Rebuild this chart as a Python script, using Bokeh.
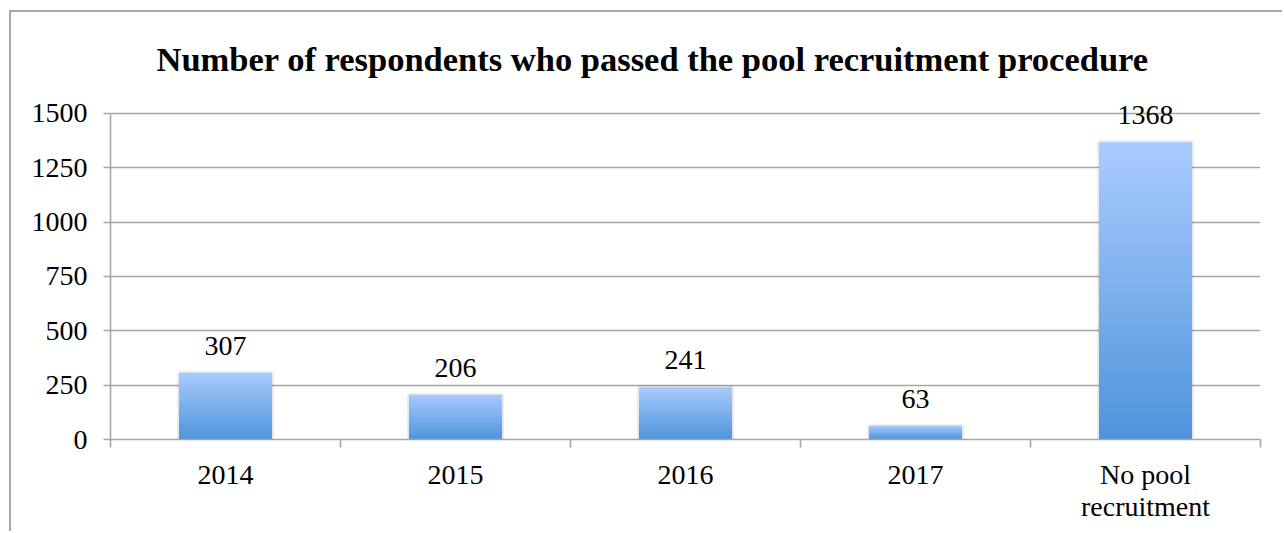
import numpy as np
from bokeh.plotting import figure
from bokeh.models import Range1d, FixedTicker, LabelSet, ColumnDataSource, Title
from bokeh.embed import file_html
from bokeh.resources import INLINE

# ---- data ----
categories = ["2014", "2015", "2016", "2017", "No pool\nrecruitment"]
values = [307, 206, 241, 63, 1368]
y_ticks = [0, 250, 500, 750, 1000, 1250, 1500]
title_text = "Number of respondents who passed the pool recruitment procedure"

FONT = "Liberation Serif"
GRID = "#a6a6a6"
TOP_RGB = (170, 204, 254)
BOT_RGB = (79, 148, 219)

p = figure(width=1273, height=521, output_backend="svg", toolbar_location=None,
           x_range=Range1d(0, len(categories)), y_range=Range1d(0, 1656),
           min_border_left=99, min_border_right=24, min_border_top=67, min_border_bottom=94)
p.outline_line_color = None
p.background_fill_color = "white"
p.border_fill_color = "white"
p.styles = {"border-top": "2px solid #a8a8a8", "border-left": "2px solid #a8a8a8",
            "margin-top": "10px", "margin-left": "9px"}

# title
t = Title(text=title_text, align="left", text_font=FONT, text_font_size="34.5px",
          text_font_style="bold", text_color="black", offset=46, standoff=4)
p.add_layout(t, "above")

# bars: soft shadow + vertical gradient image
bw = 0.405
lefts = [i + 0.5 - bw / 2 for i in range(len(values))]
rights = [i + 0.5 + bw / 2 for i in range(len(values))]
p.quad(left=lefts, right=rights, bottom=[0] * len(values), top=values,
       fill_color=None, line_color="black", line_alpha=0.07, line_width=4)

NR = 256
grad = np.zeros((NR, 1), dtype=np.uint32)
view = grad.view(dtype=np.uint8).reshape((NR, 1, 4))
for r in range(NR):
    f = (r + 0.5) / NR
    for j in range(3):
        view[r, 0, j] = int(round(BOT_RGB[j] + (TOP_RGB[j] - BOT_RGB[j]) * f))
    view[r, 0, 3] = 255
p.image_rgba(image=[grad] * len(values), x=lefts, y=[0] * len(values),
             dw=[bw] * len(values), dh=values)

# data labels
src = ColumnDataSource(dict(x=[i + 0.5 for i in range(len(values))], y=values,
                            t=[str(v) for v in values]))
p.add_layout(LabelSet(x="x", y="y", text="t", source=src, text_align="center",
                      text_baseline="middle", y_offset=27, text_font=FONT,
                      text_font_size="28px", text_color="black"))

# grid
p.xgrid.grid_line_color = None
p.ygrid.grid_line_color = GRID
p.ygrid.grid_line_width = 1.6
p.ygrid.ticker = FixedTicker(ticks=y_ticks)

# y axis
ya = p.yaxis[0]
ya.ticker = FixedTicker(ticks=y_ticks)
ya.bounds = (0, 1500)
ya.axis_line_color = GRID
ya.axis_line_width = 1.6
ya.major_tick_line_color = GRID
ya.major_tick_line_width = 1.6
ya.major_tick_out = 7
ya.major_tick_in = 0
ya.minor_tick_line_color = None
ya.major_label_standoff = 16
ya.major_label_text_font = FONT
ya.major_label_text_font_size = "28px"
ya.major_label_text_color = "black"

# x axis
xa = p.xaxis[0]
xa.ticker = FixedTicker(ticks=[i + 0.5 for i in range(len(categories))],
                        minor_ticks=list(range(len(categories) + 1)))
xa.major_label_overrides = {i + 0.5: c for i, c in enumerate(categories)}
xa.axis_line_color = GRID
xa.axis_line_width = 1.6
xa.major_tick_line_color = None
xa.major_tick_out = 0
xa.major_tick_in = 0
xa.minor_tick_line_color = GRID
xa.minor_tick_line_width = 1.6
xa.minor_tick_out = 8
xa.minor_tick_in = 0
xa.major_label_standoff = 11
xa.major_label_text_font = FONT
xa.major_label_text_font_size = "28px"
xa.major_label_text_color = "black"
xa.major_label_text_line_height = 1.05

open("out.html", "w").write(file_html(p, INLINE))
